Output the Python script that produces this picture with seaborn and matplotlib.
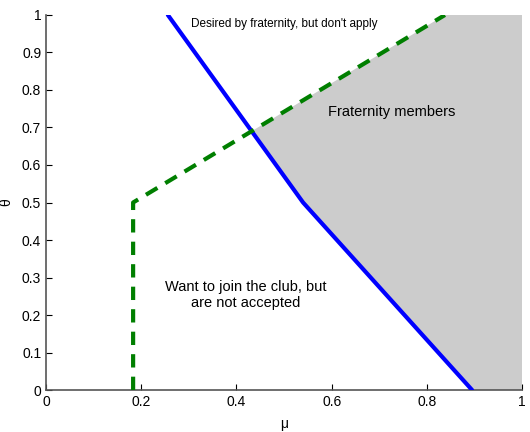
import matplotlib
matplotlib.use("Agg")
import matplotlib.pyplot as plt
import seaborn as sns
import numpy as np

# acceptance boundary (blue)
accept_mu = [0.256, 0.54, 0.895]
accept_theta = [1.0, 0.5, 0.0]

# application boundary (green dashed)
apply_mu = [0.183, 0.183, 0.838]
apply_theta = [0.0, 0.5, 1.0]


def intersect(p1, p2, q1, q2):
    # crossing of segment p1-p2 with q1-q2
    d1 = np.subtract(p2, p1)
    d2 = np.subtract(q2, q1)
    a = np.array([d1, -d2]).T
    t = np.linalg.solve(a, np.subtract(q1, p1))[0]
    return tuple(np.add(p1, t * d1))


sns.set_style('ticks')
plt.rcParams['font.family'] = ['Liberation Sans', 'DejaVu Sans']
plt.rcParams['xtick.direction'] = 'in'
plt.rcParams['ytick.direction'] = 'in'
plt.rcParams['text.color'] = 'black'
plt.rcParams['axes.labelcolor'] = 'black'

fig = plt.figure(figsize=(5.3, 4.32), dpi=100)
ax = fig.add_axes([0.0868, 0.0972, 0.8982, 0.8681])

cx, cy = intersect((accept_mu[0], accept_theta[0]), (accept_mu[1], accept_theta[1]),
                   (apply_mu[1], apply_theta[1]), (apply_mu[2], apply_theta[2]))

# shaded region: above blue, below green
poly_x = [cx, apply_mu[2], 1.0, 1.0, accept_mu[2], accept_mu[1], cx]
poly_y = [cy, apply_theta[2], 1.0, 0.0, accept_theta[2], accept_theta[1], cy]
ax.fill(poly_x, poly_y, color='#cccccc', lw=0, zorder=1)

sns.lineplot(x=accept_mu, y=accept_theta, sort=False, estimator=None,
             color='#0000ff', lw=3, ax=ax, zorder=3)
sns.lineplot(x=apply_mu, y=apply_theta, sort=False, estimator=None,
             color='#007f00', lw=3, ax=ax, zorder=3, linestyle=(0, (3.2, 2.2)))

ax.set_xlim(0, 1)
ax.set_ylim(0, 1)
ax.set_xticks(np.arange(0, 1.01, 0.2))
ax.set_yticks(np.arange(0, 1.01, 0.1))
ax.set_xticklabels(['0', '0.2', '0.4', '0.6', '0.8', '1'])
ax.set_yticklabels(['0', '0.1', '0.2', '0.3', '0.4', '0.5', '0.6', '0.7', '0.8', '0.9', '1'])
ax.tick_params(labelsize=10, length=4, width=0.8, colors='#000000')
for side in ['top', 'right']:
    ax.spines[side].set_visible(False)
for side in ['left', 'bottom']:
    ax.spines[side].set_color('#555555')
    ax.spines[side].set_linewidth(1.2)

ax.set_xlabel('μ', fontsize=10, labelpad=6)
ax.set_ylabel('θ', fontsize=10, labelpad=6)

ax.text(0.5, 0.975, "Desired by fraternity, but don't apply", fontsize=8.5,
        ha='center', va='center')
ax.text(0.727, 0.741, 'Fraternity members', fontsize=10.5, ha='center', va='center')
ax.text(0.42, 0.253, 'Want to join the club, but\nare not accepted', fontsize=10.5,
        ha='center', va='center', linespacing=1.15)

fig.savefig('out.png', dpi=100)
